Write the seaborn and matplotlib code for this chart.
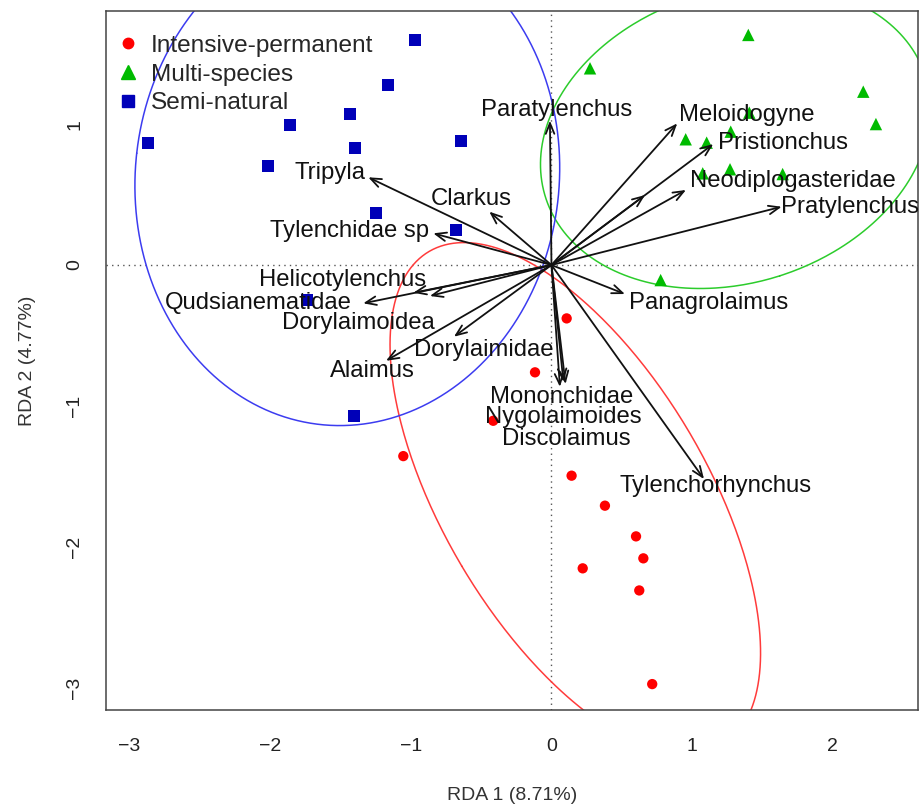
import numpy as np
import pandas as pd
import matplotlib
matplotlib.use("Agg")
import matplotlib.pyplot as plt
import seaborn as sns
from matplotlib.lines import Line2D

# ---------------- data ----------------
groups = ["Intensive-permanent", "Multi-species", "Semi-natural"]

ip_x = [0.108, -0.117, -0.414, -1.053, 0.143, 0.380, 0.601, 0.653, 0.222, 0.624, 0.716]
ip_y = [-0.379, -0.762, -1.106, -1.357, -1.496, -1.709, -1.927, -2.083, -2.154, -2.311, -2.976]

ms_x = [1.399, 0.274, 2.216, 2.306, 1.406, 1.274, 0.954, 1.103, 1.075, 1.269, 1.643, 0.776]
ms_y = [1.634, 1.397, 1.231, 1.001, 1.082, 0.947, 0.893, 0.869, 0.651, 0.680, 0.646, -0.107]

sn_x = [-0.970, -1.162, -1.432, -1.858, -2.868, -1.397, -0.643, -2.015, -1.247, -0.679, -1.737, -1.404]
sn_y = [1.598, 1.278, 1.072, 0.994, 0.866, 0.831, 0.881, 0.703, 0.369, 0.249, -0.249, -1.072]

species = ["Paratylenchus", "Meloidogyne", "Pristionchus", "", "Neodiplogasteridae",
           "Pratylenchus", "Panagrolaimus", "Tylenchorhynchus", "Mononchidae",
           "Nygolaimoides", "Discolaimus", "Dorylaimidae", "Alaimus", "Dorylaimoidea",
           "Qudsianematidae", "Helicotylenchus", "Tylenchidae sp", "Clarkus", "Tripyla"]
arrow_x = [-0.011, 0.894, 1.150, 0.665, 0.956, 1.636, 0.522, 1.084, 0.060, 0.085, 0.100,
           -0.693, -1.176, -0.864, -1.338, -0.982, -0.840, -0.442, -1.302]
arrow_y = [1.025, 1.006, 0.859, 0.497, 0.533, 0.414, -0.206, -1.520, -0.865, -0.830, -0.845,
           -0.509, -0.680, -0.220, -0.272, -0.197, 0.225, 0.379, 0.623]
label_x = [0.039, 1.386, 1.642, 0.0, 1.716, 2.122, 1.116, 1.169, 0.075, 0.082, 0.103,
           -0.480, -1.272, -1.373, -2.087, -1.482, -1.432, -0.567, -1.574]
label_y = [1.101, 1.065, 0.866, 0.0, 0.597, 0.412, -0.268, -1.567, -0.935, -1.082, -1.238,
           -0.604, -0.751, -0.410, -0.268, -0.107, 0.241, 0.469, 0.656]

x_ticks = [-3, -2, -1, 0, 1, 2]
y_ticks = [-3, -2, -1, 0, 1]
x_label = "RDA 1 (8.71%)"
y_label = "RDA 2 (4.77%)"

# ---------------- styling ----------------
sns.set_style("white")
plt.rcParams["font.family"] = ["Liberation Sans", "DejaVu Sans"]

pt_colors = {"Intensive-permanent": "#ff0000", "Multi-species": "#00bb00", "Semi-natural": "#0000b8"}
el_colors = {"Intensive-permanent": "#ff3b3b", "Multi-species": "#2ccc2c", "Semi-natural": "#3c3cf0"}
markers = {"Intensive-permanent": "o", "Multi-species": "^", "Semi-natural": "s"}
sizes = {"Intensive-permanent": 55, "Multi-species": 80, "Semi-natural": 70}

df = pd.DataFrame({
    "RDA1": ip_x + ms_x + sn_x,
    "RDA2": ip_y + ms_y + sn_y,
    "group": [groups[0]] * len(ip_x) + [groups[1]] * len(ms_x) + [groups[2]] * len(sn_x),
})

fig = plt.figure(figsize=(9.2, 8.07), dpi=100)
ax = fig.add_axes([106 / 920, 1 - 710 / 807, (918 - 106) / 920, (710 - 11) / 807])

ax.set_xlim(-3.166, 2.605)
ax.set_ylim(-3.160, 1.804)

# reference lines
ax.axhline(0, color="#555555", lw=1, ls=(0, (1, 3)), zorder=1)
ax.axvline(0, color="#555555", lw=1, ls=(0, (1, 3)), zorder=1)

# points
for g in groups:
    sub = df[df.group == g]
    sns.scatterplot(data=sub, x="RDA1", y="RDA2", ax=ax, color=pt_colors[g],
                    marker=markers[g], s=sizes[g], edgecolor="none", linewidth=0,
                    zorder=3, legend=False)

# ellipses (SD ellipses, 95%)
scale = np.sqrt(5.991)
t = np.linspace(0, 2 * np.pi, 400)
for g in groups:
    sub = df[df.group == g]
    xy = sub[["RDA1", "RDA2"]].to_numpy()
    c = xy.mean(axis=0)
    cov = np.cov(xy.T)
    vals, vecs = np.linalg.eigh(cov)
    pts = (vecs @ np.diag(np.sqrt(vals)) @ np.vstack([np.cos(t), np.sin(t)])) * scale
    ax.plot(c[0] + pts[0], c[1] + pts[1], color=el_colors[g], lw=1.1, zorder=2)

# arrows and labels
for sp, ax_, ay_, lx, ly in zip(species, arrow_x, arrow_y, label_x, label_y):
    ax.annotate("", xy=(ax_, ay_), xytext=(0, 0),
                arrowprops=dict(arrowstyle="->,head_length=0.55,head_width=0.22",
                                color="#111111", lw=1.3, shrinkA=0, shrinkB=0,
                                mutation_scale=14),
                zorder=4)
    if sp:
        ax.text(lx, ly, sp, ha="center", va="center", fontsize=17.2,
                color="#111111", zorder=5)

# axes
ax.set_xticks(x_ticks)
ax.set_yticks(y_ticks)
ax.set_xticklabels([str(v) if v >= 0 else "\u2212" + str(-v) for v in x_ticks], fontsize=14)
ax.set_yticklabels([str(v) if v >= 0 else "\u2212" + str(-v) for v in y_ticks], fontsize=14,
                   rotation=90, va="center")
ax.tick_params(axis="both", direction="out", length=9.5, width=1, color="#444444",
               labelcolor="#222222")
ax.tick_params(axis="x", pad=11)
ax.tick_params(axis="y", pad=7)
for s in ax.spines.values():
    s.set_color("#444444")
    s.set_linewidth(1.1)
ax.set_xlabel(x_label, fontsize=14, color="#333333", labelpad=23)
ax.set_ylabel(y_label, fontsize=14, color="#333333", labelpad=22)

# legend
handles = [Line2D([], [], ls="none", marker=markers[g], color=pt_colors[g],
                  markersize={"o": 7.5, "^": 9.5, "s": 8.5}[markers[g]]) for g in groups]
ax.legend(handles, groups, loc="upper left", bbox_to_anchor=(0.015, 0.966),
          frameon=False, fontsize=17.6, handletextpad=0.55, handlelength=0.8,
          borderaxespad=0, labelspacing=0.27, borderpad=0)

fig.savefig("out.png", dpi=100)
